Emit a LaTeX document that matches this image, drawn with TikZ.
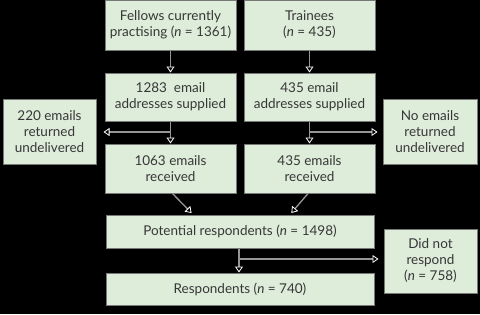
\documentclass[tikz,border=0pt]{standalone}
\usepackage{fontspec}
\setmainfont{Lato}
\usetikzlibrary{arrows.meta,calc}
\definecolor{boxfill}{RGB}{222,236,218}
\definecolor{boxline}{RGB}{120,120,120}
\definecolor{txt}{RGB}{55,55,55}
\definecolor{arrline}{RGB}{150,150,150}
\tikzset{
  box/.style={draw=boxline, line width=1pt, fill=boxfill, text=txt, align=center,
    inner sep=0pt, font=\fontsize{13.5}{16}\selectfont},
  arr/.style={draw=arrline, line width=1.3pt,
    -{Triangle[open, length=6pt, width=8pt, line width=0.8pt, color=white]}},
}
\begin{document}
\begin{tikzpicture}[x=1pt,y=-1pt]
\fill[black] (0,0) rectangle (480,314);
\useasboundingbox (0,0) rectangle (480,314);
\node[box, minimum width=131pt, minimum height=50pt] (f) at (170.5,25) {Fellows currently\\practising (\textit{n} = 1361)};
\node[box, minimum width=131pt, minimum height=50pt] (t) at (309.5,25) {Trainees\\(\textit{n} = 435)};
\node[box, minimum width=131pt, minimum height=48pt] (a1) at (170.5,97) {1283 \ email\\addresses supplied};
\node[box, minimum width=131pt, minimum height=48pt] (a2) at (309.5,97) {435 email\\addresses supplied};
\node[box, minimum width=93pt, minimum height=65pt] (u1) at (49.5,131.5) {220 emails\\returned\\undelivered};
\node[box, minimum width=94pt, minimum height=65pt] (u2) at (430,131.5) {No emails\\returned\\undelivered};
\node[box, minimum width=131pt, minimum height=49pt] (r1) at (170.5,168.5) {1063 emails\\received};
\node[box, minimum width=131pt, minimum height=49pt] (r2) at (309.5,168.5) {435 emails\\received};
\node[box, minimum width=268pt, minimum height=33pt] (p) at (240,231.5) {Potential respondents (\textit{n} = 1498)};
\node[box, minimum width=268pt, minimum height=32pt] (resp) at (240,289) {Respondents (\textit{n} = 740)};
\node[box, minimum width=93pt, minimum height=64pt] (d) at (430.5,261) {Did not\\respond\\(\textit{n} = 758)};
\coordinate (b1) at (171,132);
\coordinate (b2) at (310,132);
\coordinate (b3) at (239,259);
\draw[arr] (f.south) -- (a1.north);
\draw[arr] (t.south) -- (t.south |- a2.north);
\draw[arr] (a1.south) -- (r1.north);
\draw[arr] (t.south |- a2.south) -- (t.south |- r2.north);
\draw[arr, shorten >=7pt] (b1) -- (b1 -| u1.east);
\draw[arr, shorten >=5pt] (b2) -- (b2 -| u2.west);
\draw[arr, shorten >=2pt] ([xshift=2pt]r1.south) -- ([xshift=-47pt]p.north);
\draw[arr, shorten >=2pt] ([xshift=-1.5pt]r2.south) -- ([xshift=50pt]p.north);
\draw[arr] (p.south -| b3) -- (resp.north -| b3);
\draw[arr, shorten >=5pt] (b3) -- (b3 -| d.west);
\end{tikzpicture}
\end{document}
